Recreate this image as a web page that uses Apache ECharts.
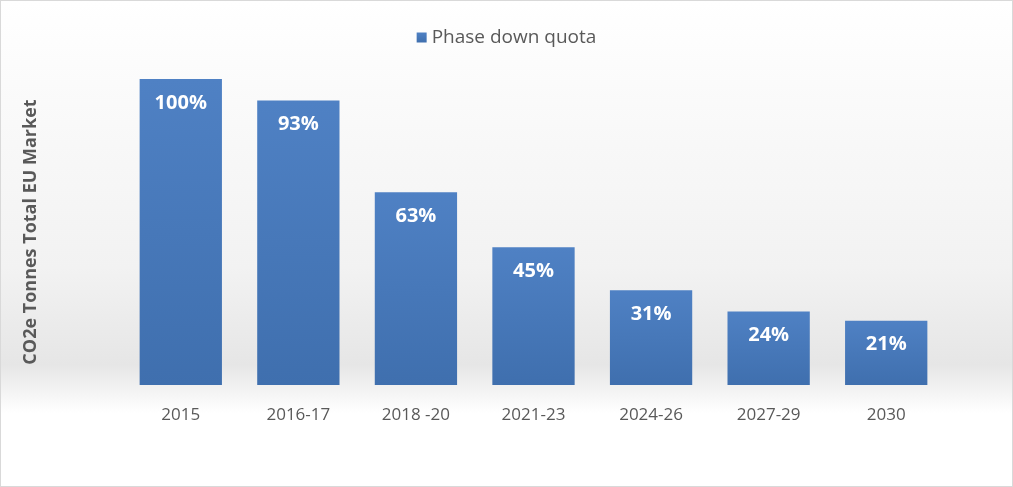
<!DOCTYPE html>
<html><head><meta charset="utf-8">
<script src="https://cdn.jsdelivr.net/npm/echarts@6/dist/echarts.min.js"></script>
<style>html,body{margin:0;padding:0;background:#fff}#c{width:1013px;height:487px;box-sizing:border-box;border:1px solid #d9d9d9}</style>
</head><body><div id="c"></div>
<script>
const categories = ['2015','2016-17','2018 -20','2021-23','2024-26','2027-29','2030'];
const quota = [100,93,63,45,31,24,21];
const chart = echarts.init(document.getElementById('c'));
chart.setOption({
  backgroundColor: new echarts.graphic.LinearGradient(0,0,0,1,[
    {offset:0,color:'#ffffff'},{offset:0.55,color:'#f2f2f2'},{offset:0.75,color:'#e6e6e6'},{offset:0.85,color:'#ffffff'},{offset:1,color:'#ffffff'}]),
  legend:{top:22,left:'center',itemWidth:10,itemHeight:10,icon:'rect',
    textStyle:{fontFamily:'Open Sans',fontSize:19,color:'#595959'},data:['Phase down quota']},
  grid:{left:121,right:67,top:78,bottom:101},
  xAxis:{type:'category',data:categories,axisLine:{show:false},axisTick:{show:false},
    axisLabel:{margin:22,fontFamily:'Open Sans',fontSize:17,color:'#595959'}},
  yAxis:{type:'value',min:0,max:100,name:'CO2e Tonnes Total EU Market',nameLocation:'middle',nameGap:82,
    nameTextStyle:{fontFamily:'Open Sans',fontSize:18,fontWeight:'bold',color:'#595959'},
    axisLine:{show:false},axisTick:{show:false},axisLabel:{show:false},splitLine:{show:false}},
  series:[{name:'Phase down quota',type:'bar',data:quota,barWidth:'70%',
    itemStyle:{color:new echarts.graphic.LinearGradient(0,0,0,1,[{offset:0,color:'#4f81c4'},{offset:1,color:'#3f6fae'}])},
    label:{show:true,position:'insideTop',distance:14,formatter:'{c}%',color:'#fff',fontFamily:'Open Sans',fontWeight:'bold',fontSize:20}}]
});
</script></body></html>
